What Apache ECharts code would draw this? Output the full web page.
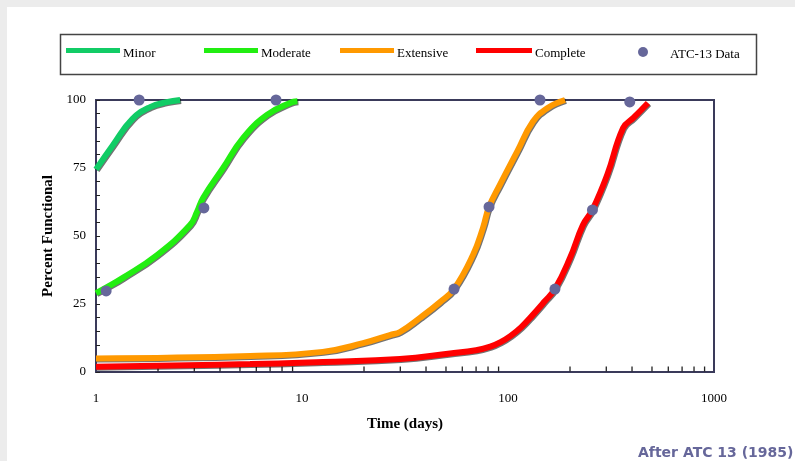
<!DOCTYPE html>
<html>
<head>
<meta charset="utf-8">
<script src="https://cdn.jsdelivr.net/npm/echarts@6/dist/echarts.min.js"></script>
<style>
  html, body { margin: 0; padding: 0; background: #fff; }
  #chart { width: 795px; height: 461px; }
</style>
</head>
<body>
<div id="chart"></div>
<script>
  // curves (time in days, percent functional)
  var minorX = [1, 1.21, 1.5, 1.83, 2.2, 2.56];
  var minorY = [74.5, 83.5, 93, 97.4, 99.2, 100];

  var moderateX = [1, 1.12, 1.35, 1.98, 2.86, 3.09, 3.31, 4.14, 5.17, 6.76, 8.75, 9.5];
  var moderateY = [29, 31, 34.6, 43, 54, 58.8, 64, 75, 86, 94.5, 98.9, 99.5];

  var extensiveX = [1, 5.6, 12.6, 19.8, 26.7, 29.9, 37.4, 46.8, 54.7, 67.6, 75.6, 80.9, 91.3, 110.6, 132, 155, 189];
  var extensiveY = [5, 5.9, 7.4, 10.6, 13.6, 14.7, 19.9, 25.7, 30.5, 43, 53, 60.7, 68.8, 80.9, 92, 97, 100];

  var completeX = [1, 5.6, 12.6, 29.9, 52.3, 70, 82, 92, 103, 116, 132, 150, 169, 200, 231, 257, 303, 362, 406, 478];
  var completeY = [1.9, 2.9, 3.7, 4.8, 6.8, 8, 9.3, 11, 13.3, 16.5, 21, 25.8, 30.5, 41.9, 54, 59.6, 72.4, 89.7, 93.4, 98.9];

  var atcX = [1.62, 1.12, 3.34, 7.48, 54.7, 80.9, 143, 169, 257, 390];
  var atcY = [100, 29.8, 60.3, 100, 30.5, 60.7, 100, 30.5, 59.6, 99.3];

  // minor log ticks along the time axis
  var xTickVals = [2, 3, 4, 5, 6, 7, 8, 9, 20, 30, 40, 50, 60, 70, 80, 90, 200, 300, 400, 500, 600, 700, 800, 900];

  var serif = 'Liberation Serif';

  function zip(xs, ys) {
    var out = [];
    for (var i = 0; i < xs.length; i++) {
      out.push([xs[i], ys[i]]);
    }
    return out;
  }

  function curve(name, color, xs, ys) {
    return {
      name: name,
      type: 'line',
      smooth: 0.45,
      showSymbol: false,
      symbol: 'none',
      data: zip(xs, ys),
      z: 3,
      lineStyle: {
        color: color,
        width: 6,
        shadowColor: 'rgba(0,0,0,0.55)',
        shadowOffsetX: 1,
        shadowOffsetY: 1,
        shadowBlur: 0
      },
      itemStyle: { color: color }
    };
  }

  function legendAt(name, left, icon, w, h) {
    return {
      data: [name],
      left: left,
      top: 47,
      padding: 0,
      icon: icon,
      itemWidth: w,
      itemHeight: h,
      itemGap: 0,
      selectedMode: false,
      formatter: '{t|{name}}',
      textStyle: {
        fontFamily: serif,
        fontSize: 13,
        color: '#000',
        rich: {
          t: { fontFamily: serif, fontSize: 13, color: '#000', padding: [6, 0, 0, -2] }
        }
      }
    };
  }

  var chart = echarts.init(document.getElementById('chart'));

  var option = {
    backgroundColor: '#fff',
    animation: false,
    title: {
      text: 'After ATC 13 (1985)',
      left: 638,
      top: 446,
      padding: 0,
      textStyle: { fontFamily: 'DejaVu Sans', fontSize: 14, fontWeight: 'bold', color: '#66679a' }
    },
    legend: [
      legendAt('Minor', 66, 'rect', 54, 5),
      legendAt('Moderate', 204, 'rect', 54, 5),
      legendAt('Extensive', 340, 'rect', 54, 5),
      legendAt('Complete', 476, 'rect', 56, 5),
      legendAt('ATC-13 Data', 638, 'circle', 48, 10)
    ],
    graphic: [
      { type: 'rect', left: 0, top: 0, shape: { width: 795, height: 7 }, style: { fill: '#ececec' }, silent: true },
      { type: 'rect', left: 0, top: 0, shape: { width: 7, height: 461 }, style: { fill: '#ececec' }, silent: true },
      { type: 'rect', left: 58, top: 32, shape: { width: 696, height: 40 },
        style: { fill: 'none', stroke: '#444', lineWidth: 1.5 }, silent: true, z: -1 }
    ],
    grid: {
      left: 96,
      right: 81,
      top: 100,
      bottom: 89,
      show: true,
      backgroundColor: '#fff',
      borderColor: '#3a3a5a',
      borderWidth: 2
    },
    xAxis: {
      type: 'log',
      logBase: 10,
      min: 1,
      max: 1000,
      name: 'Time (days)',
      nameLocation: 'middle',
      nameGap: 45,
      nameTextStyle: { fontFamily: serif, fontSize: 15, fontWeight: 'bold', color: '#000' },
      axisLine: { show: true, lineStyle: { color: '#3a3a5a', width: 2 } },
      axisTick: { show: false },
      splitLine: { show: false },
      axisLabel: {
        margin: 20,
        fontFamily: serif,
        fontSize: 13,
        color: '#000',
        formatter: function (v) { return String(Math.round(v)); }
      }
    },
    yAxis: {
      type: 'value',
      min: 0,
      max: 100,
      interval: 25,
      name: 'Percent Functional',
      nameLocation: 'middle',
      nameGap: 38,
      nameTextStyle: { fontFamily: serif, fontSize: 15, fontWeight: 'bold', color: '#000' },
      axisLine: { show: true, lineStyle: { color: '#3a3a5a', width: 2 } },
      axisTick: { show: true, inside: true, length: 4, lineStyle: { color: '#222' } },
      minorTick: { show: true, splitNumber: 5, length: 4, lineStyle: { color: '#222' } },
      splitLine: { show: false },
      axisLabel: { margin: 10, fontFamily: serif, fontSize: 13, color: '#000' }
    },
    series: [
      {
        name: 'ticks',
        type: 'scatter',
        silent: true,
        symbol: 'rect',
        symbolSize: [1.3, 5],
        symbolOffset: [0, -3],
        itemStyle: { color: '#222', opacity: 1 },
        data: xTickVals.map(function (v) { return [v, 0]; }),
        z: 1
      },
      curve('Minor', '#11cc66', minorX, minorY),
      curve('Moderate', '#22ee11', moderateX, moderateY),
      curve('Extensive', '#ff9900', extensiveX, extensiveY),
      curve('Complete', '#ff0000', completeX, completeY),
      {
        name: 'ATC-13 Data',
        type: 'scatter',
        symbol: 'circle',
        symbolSize: 11,
        itemStyle: { color: '#66679a', opacity: 1 },
        data: zip(atcX, atcY),
        z: 5
      }
    ]
  };

  chart.setOption(option);
</script>
</body>
</html>
